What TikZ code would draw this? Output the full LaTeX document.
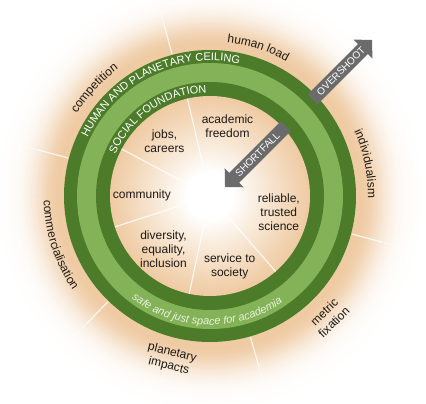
\documentclass[tikz,border=0pt]{standalone}
\usepackage{fontspec}
\setmainfont{Liberation Sans}
\usetikzlibrary{decorations.text,arrows.meta}
\definecolor{peach}{RGB}{239,203,163}
\definecolor{darkgreen}{RGB}{76,124,42}
\definecolor{lightgreen}{RGB}{132,178,88}
\definecolor{arrowgray}{RGB}{107,107,107}
\definecolor{labeltext}{RGB}{30,25,20}
\definecolor{safetext}{RGB}{232,242,218}
\begin{document}
\begin{tikzpicture}[x=1pt,y=1pt,
  inlabel/.style={font=\fontsize{12}{14}\selectfont, text=labeltext, align=center, inner sep=0pt},
  outlabel/.style={font=\fontsize{12}{14}\selectfont, text=labeltext, align=center, inner sep=0pt},
  spoke/.style={draw=white, line width=1.2pt, opacity=0.8},
  spokefade/.style={draw=white, line width=1.2pt, opacity=0.4},
  arrowbar/.style={draw=arrowgray, line width=14pt, -{Triangle[width=26pt,length=13pt]}},
  arrowtext/.style={font=\fontsize{10}{10}\selectfont, text=white, rotate=45, inner sep=0pt}]
\useasboundingbox (-210pt,-208pt) rectangle (216pt,196pt);
\clip (-210pt,-208pt) rectangle (216pt,196pt);
\fill[white] (-210pt,-208pt) rectangle (216pt,196pt);
% outer glow
\foreach \r in {215,214,...,146} {
  \pgfmathsetmacro{\p}{100*exp(-(max(\r-150,0)/28)^2)}
  \fill[peach!\p!white] (0,0) circle (\r pt);
}
% outer spokes
\foreach \a in {45,105,165,226,286,345} {
  \draw[spoke] (\a:147pt) -- (\a:178pt);
  \draw[spokefade] (\a:178pt) -- (\a:192pt);
}
% rings
\fill[darkgreen] (0,0) circle (146pt);
\fill[lightgreen] (0,0) circle (133pt);
\fill[darkgreen] (0,0) circle (114pt);
% inner gradient
\foreach \r in {100,99,...,1} {
  \pgfmathsetmacro{\p}{100*(max(\r-25,0.01)/75)^0.9}
  \fill[peach!\p!white] (0,0) circle (\r pt);
}
% inner spokes
\foreach \a in {45,103,152,198,258,311} {
  \draw[spoke] (\a:30pt) -- (\a:100pt);
}
% ring texts
\path[decorate, decoration={text along path, text align=center,
  text={|\fontsize{11}{11}\selectfont\color{white}|HUMAN AND PLANETARY CEILING}}]
  (176:135.5pt) arc[start angle=176, end angle=56, radius=135.5pt];
\path[decorate, decoration={text along path, text align=center,
  text={|\fontsize{11}{11}\selectfont\color{white}|SOCIAL FOUNDATION}}]
  (184:103.5pt) arc[start angle=184, end angle=64, radius=103.5pt];
\path[decorate, decoration={text along path, text align=center,
  text={|\fontsize{11}{11}\selectfont\itshape\color{safetext}|safe and just space for academia}}]
  (208.5:129pt) arc[start angle=208.5, end angle=328.5, radius=129pt];
% outer texts
\path[decorate, decoration={text along path, text align=center,
  text={|\fontsize{12}{12}\selectfont\color{labeltext}|human load}}]
  (102:154.5pt) arc[start angle=102, end angle=42, radius=154.5pt];
\path[decorate, decoration={text along path, text align=center,
  text={|\fontsize{12}{12}\selectfont\color{labeltext}|competition}}]
  (167:156.5pt) arc[start angle=167, end angle=107, radius=156.5pt];
\path[decorate, decoration={text along path, text align=center,
  text={|\fontsize{12}{12}\selectfont\color{labeltext}|individualism}}]
  (41.7:158pt) arc[start angle=41.7, end angle=-18.3, radius=158pt];
\path[decorate, decoration={text along path, text align=center,
  text={|\fontsize{12}{12}\selectfont\color{labeltext}|commercialisation}}]
  (168:166.5pt) arc[start angle=168, end angle=228, radius=166.5pt];
\node[outlabel, rotate=44] (metric) at (119pt,-121pt) {metric\\fixation};
\node[outlabel, rotate=-14] (planetary) at (-39.5pt,-163.5pt) {planetary\\impacts};
% inner labels
\node[inlabel] (academic) at (17.5pt,70pt) {academic\\freedom};
\node[inlabel] (jobs) at (-45.5pt,55pt) {jobs,\\careers};
\node[inlabel] (community) at (-68pt,1pt) {community};
\node[inlabel] (diversity) at (-46.5pt,-53pt) {diversity,\\equality,\\inclusion};
\node[inlabel] (service) at (19.7pt,-70pt) {service to\\society};
\node[inlabel] (reliable) at (68.8pt,-16pt) {reliable,\\trusted\\science};
% arrows
\coordinate (otail) at (102.7pt,96.7pt);
\coordinate (otip) at (162.1pt,156.1pt);
\coordinate (stail) at (75.8pt,69.8pt);
\coordinate (stip) at (15pt,9pt);
\draw[arrowbar] (otail) -- (otip);
\draw[arrowbar] (stail) -- (stip);
\node[arrowtext] (over) at (131pt,125pt) {OVERSHOOT};
\node[arrowtext] (short) at (47.5pt,41.5pt) {SHORTFALL};
\end{tikzpicture}
\end{document}
